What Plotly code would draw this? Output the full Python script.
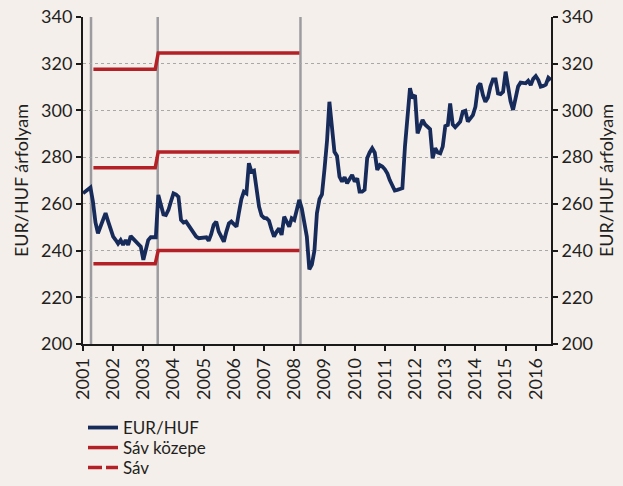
import pandas as pd
import plotly.graph_objects as go

# Monthly EUR/HUF exchange rate, Jan 2001 - Jul 2016
eurhuf = [
    264.5, 265.3, 266.0, 267.0, 261.0, 252.0, 247.4, 250.0, 253.0, 256.0, 252.5, 249.0,   # 2001
    246.0, 244.5, 243.0, 244.5, 242.4, 244.5, 242.4, 246.2, 245.0, 243.8, 242.5, 241.7,   # 2002
    236.0, 241.0, 244.5, 245.7, 245.7, 245.7, 263.8, 259.0, 255.5, 255.2, 257.4, 261.0,   # 2003
    264.5, 264.0, 263.0, 253.1, 252.0, 252.4, 250.9, 249.0, 247.4, 246.0, 245.3, 245.5,   # 2004
    245.5, 245.7, 244.2, 247.0, 251.0, 252.4, 248.1, 245.5, 243.8, 248.0, 251.6, 252.4,   # 2005
    251.0, 250.2, 256.0, 262.0, 265.2, 264.5, 277.4, 273.8, 274.2, 266.0, 258.8, 255.0,   # 2006
    254.0, 253.8, 252.8, 249.0, 246.0, 248.0, 249.5, 246.7, 254.5, 252.4, 250.2, 253.8,   # 2007
    253.1, 257.5, 261.7, 258.0, 253.0, 246.0, 232.0, 234.0, 240.0, 256.0, 262.0, 264.0,   # 2008
    275.0, 287.3, 303.7, 293.0, 282.3, 280.5, 271.6, 269.5, 271.4, 268.8, 270.5, 272.4,   # 2009
    269.5, 270.9, 265.2, 265.2, 266.0, 279.5, 282.0, 283.8, 281.9, 274.5, 276.6, 276.0,   # 2010
    274.8, 273.0, 270.2, 268.0, 265.7, 266.0, 266.3, 266.7, 284.5, 296.0, 309.5, 305.2,   # 2011
    306.6, 290.2, 293.0, 295.9, 294.0, 293.0, 292.0, 279.5, 283.8, 282.0, 281.6, 284.5,   # 2012
    293.3, 293.8, 303.0, 294.0, 292.8, 294.0, 295.2, 299.5, 299.9, 295.2, 296.5, 298.0,   # 2013
    301.6, 310.2, 311.6, 306.6, 303.7, 305.5, 310.2, 313.3, 313.3, 307.3, 307.0, 308.0,   # 2014
    316.6, 308.7, 304.0, 300.2, 305.0, 310.2, 311.9, 311.6, 311.6, 312.7, 310.9, 313.5,   # 2015
    314.7, 313.0, 310.2, 310.5, 311.0, 314.0, 313.0,                                      # 2016
]
months = pd.date_range("2001-01-01", periods=len(eurhuf), freq="MS")

# Intervention band (central parity and ±15% edges)
band_dates = ["2001-05-07", "2003-05-25", "2003-06-30", "2008-03-03"]
band_center = [275.5, 275.5, 282.2, 282.2]
band_upper = [317.6, 317.6, 324.6, 324.6]
band_lower = [234.4, 234.4, 240.0, 240.0]

# Regime-change dates (vertical markers)
event_dates = ["2001-04-08", "2003-06-24", "2008-03-16"]

year_ticks = [f"{y}-01-01" for y in range(2001, 2017)]
year_labels = [str(y) for y in range(2001, 2017)]

BG = "#F5EFEC"
NAVY = "#172B5A"
RED = "#B32126"
GRAY = "#9C9CA0"
TXT = "#231F20"
AX = "#1a1a1a"
FONT = "Lato"
FS = 18
LFS = 17
YDOM = [0.3028, 1.0]

fig = go.Figure()

for d in event_dates:
    fig.add_vline(x=d, line=dict(color=GRAY, width=2.5), layer="below")

fig.add_trace(go.Scatter(x=months, y=eurhuf, mode="lines", name="EUR/HUF",
                         line=dict(color=NAVY, width=3.8), legend="legend"))
fig.add_trace(go.Scatter(x=band_dates, y=band_center, mode="lines", name="Sáv közepe",
                         line=dict(color=RED, width=3.5), legend="legend2"))
fig.add_trace(go.Scatter(x=band_dates, y=band_upper, mode="lines", name="Sáv",
                         line=dict(color=RED, width=3.5), showlegend=False))
fig.add_trace(go.Scatter(x=band_dates, y=band_lower, mode="lines", name="Sáv",
                         line=dict(color=RED, width=3.5), showlegend=False))
fig.add_trace(go.Scatter(x=[None], y=[None], mode="lines", name="Sáv",
                         line=dict(color=RED, width=3.5, dash="14px,4px"), legend="legend3"))
fig.add_trace(go.Scatter(x=[None], y=[None], mode="lines", yaxis="y2",
                         showlegend=False, hoverinfo="skip"))

yax = dict(range=[200, 340], tick0=200, dtick=20, showline=True, linecolor=AX,
           linewidth=2, ticks="outside", ticklen=5, tickwidth=2, tickcolor=AX,
           tickfont=dict(size=FS, color=TXT, family=FONT), zeroline=False,
           automargin=False, domain=YDOM)

leg = dict(x=0.0, xanchor="left", yanchor="middle", bgcolor="rgba(0,0,0,0)",
           font=dict(size=LFS, color=TXT, family=FONT), itemwidth=30)

fig.update_layout(
    width=623, height=486,
    paper_bgcolor=BG, plot_bgcolor=BG,
    margin=dict(l=83, r=72, t=17, b=0),
    font=dict(family=FONT, color=TXT, size=FS),
    xaxis=dict(type="date", range=["2001-01-01", "2016-07-03"],
               tickmode="array", tickvals=year_ticks, ticktext=year_labels,
               tickangle=-90, showline=True, linecolor=AX, linewidth=2,
               ticks="outside", ticklen=5, tickwidth=2, tickcolor=AX, automargin=False,
               showgrid=False, tickfont=dict(size=FS, color=TXT, family=FONT)),
    yaxis=dict(**yax, showgrid=True, gridcolor="#A8A8A8", gridwidth=1.3, griddash="dot",
               title=dict(text="EUR/HUF árfolyam", font=dict(size=FS, color=TXT, family=FONT),
                          standoff=8)),
    yaxis2=dict(**yax, overlaying="y", side="right", anchor="x", showgrid=False,
                title=dict(text="EUR/HUF árfolyam", font=dict(size=FS, color=TXT, family=FONT),
                           standoff=8)),
    legend=dict(**leg, y=0.1237),
    legend2=dict(**leg, y=0.0810),
    legend3=dict(**leg, y=0.0384),
    showlegend=True,
)

fig.write_html("out.html", config={"displayModeBar": False},
               post_script="document.body.style.margin='0px';")
